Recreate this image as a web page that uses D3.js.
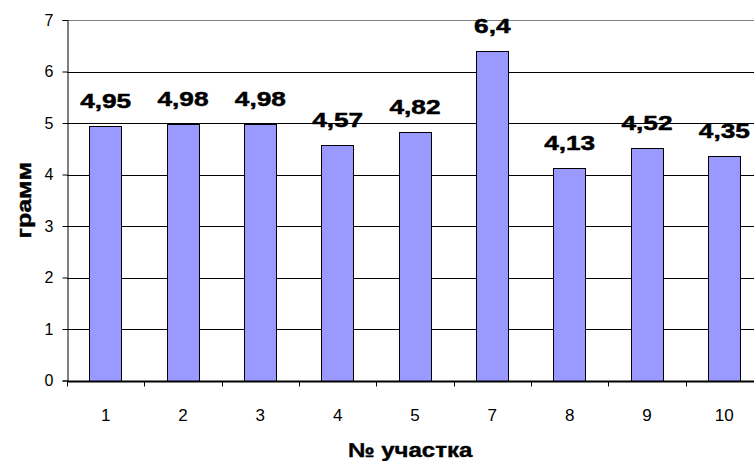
<!DOCTYPE html>
<html>
<head>
<meta charset="utf-8">
<script src="https://cdn.jsdelivr.net/npm/d3@7"></script>
<style>
  body { margin: 0; background: #fff; }
  svg { display: block; font-family: Arial, "Liberation Sans", sans-serif; }
</style>
</head>
<body>
<div id="chart"></div>
<script>
var categories = ['1', '2', '3', '4', '5', '7', '8', '9', '10'];
var values = [4.95, 4.98, 4.98, 4.57, 4.82, 6.4, 4.13, 4.52, 4.35];
var labels = ['4,95', '4,98', '4,98', '4,57', '4,82', '6,4', '4,13', '4,52', '4,35'];
var yTicks = [0, 1, 2, 3, 4, 5, 6, 7];

var width = 754, height = 461;
var margin = { top: 20, right: -9, bottom: 80, left: 67 };

var svg = d3.select('#chart').append('svg')
    .attr('width', width)
    .attr('height', height);

var x = d3.scaleBand()
    .domain(categories)
    .range([margin.left, width - margin.right])
    .paddingInner(0.58)
    .paddingOuter(0.29);

var xTick = d3.scaleLinear()
    .domain([0, categories.length])
    .range([margin.left, width - margin.right]);

var y = d3.scaleLinear()
    .domain([0, 7])
    .range([height - margin.bottom - 0.5, margin.top]);

// bold text in the original is drawn a bit wider than plain Arial
function stretch(sel, sx) {
    sel.each(function() {
        var t = d3.select(this);
        var cx = +t.attr('data-x'), cy = +t.attr('data-y');
        var rot = t.attr('data-rot') ? ' rotate(' + t.attr('data-rot') + ')' : '';
        t.attr('transform', 'translate(' + cx + ',' + cy + ')' + rot + ' scale(' + sx + ',1)');
    });
}

// grid lines
svg.append('g').selectAll('line')
    .data(yTicks.slice(1))
    .enter().append('line')
    .attr('x1', margin.left)
    .attr('x2', width - margin.right)
    .attr('y1', function(d) { return Math.round(y(d)) + 0.5; })
    .attr('y2', function(d) { return Math.round(y(d)) + 0.5; })
    .style('stroke', function(d) { return d === 7 ? '#808080' : '#000'; })
    .style('stroke-width', '1px');

// bars
svg.append('g').selectAll('rect')
    .data(values)
    .enter().append('rect')
    .attr('x', function(d, i) { return Math.round(x(categories[i])) + 0.5; })
    .attr('y', function(d) { return Math.round(y(d)) + 0.5; })
    .attr('width', Math.round(x.bandwidth()))
    .attr('height', function(d) { return Math.round(y(0)) - Math.round(y(d)); })
    .style('fill', '#9999ff')
    .style('stroke', '#000')
    .style('stroke-width', '1px');

// value labels
svg.append('g').selectAll('text')
    .data(values)
    .enter().append('text')
    .attr('data-x', function(d, i) { return x(categories[i]) + x.bandwidth() / 2; })
    .attr('data-y', function(d) { return y(d) - 18; })
    .attr('text-anchor', 'middle')
    .style('font-size', '21px')
    .style('font-weight', 'bold')
    .style('fill', '#000')
    .style('stroke', '#000')
    .style('stroke-width', '0.5px')
    .text(function(d, i) { return labels[i]; })
    .call(stretch, 1.25);

// y axis
var yAxis = svg.append('g')
    .attr('transform', 'translate(' + (margin.left + 0.5) + ',0)')
    .call(d3.axisLeft(y).tickValues(yTicks).tickSize(5).tickPadding(9).tickFormat(d3.format('d')));
yAxis.select('.domain').attr('stroke', '#000');
yAxis.selectAll('.tick line').attr('stroke', '#000');
yAxis.selectAll('.tick text')
    .style('font-size', '16px')
    .style('font-family', 'Arial, "Liberation Sans", sans-serif')
    .attr('fill', '#000');

// x axis
var xAxisY = Math.round(y(0)) + 0.5;
svg.append('line')
    .attr('x1', margin.left)
    .attr('x2', width - margin.right)
    .attr('y1', xAxisY)
    .attr('y2', xAxisY)
    .style('stroke', '#000')
    .style('stroke-width', '2px');

svg.append('g').selectAll('line')
    .data(d3.range(categories.length + 1))
    .enter().append('line')
    .attr('x1', function(d) { return Math.round(xTick(d)) + 0.5; })
    .attr('x2', function(d) { return Math.round(xTick(d)) + 0.5; })
    .attr('y1', xAxisY)
    .attr('y2', xAxisY + 5)
    .style('stroke', '#000');

svg.append('g').selectAll('text')
    .data(categories)
    .enter().append('text')
    .attr('x', function(d) { return x(d) + x.bandwidth() / 2; })
    .attr('y', xAxisY + 39)
    .attr('text-anchor', 'middle')
    .style('font-size', '17px')
    .style('fill', '#000')
    .text(function(d) { return d; });

// axis titles
svg.append('text')
    .attr('data-x', 410)
    .attr('data-y', 457)
    .attr('text-anchor', 'middle')
    .style('font-size', '20px')
    .style('font-weight', 'bold')
    .style('stroke', '#000')
    .style('stroke-width', '0.4px')
    .text('№ участка')
    .call(stretch, 1.2);

svg.append('text')
    .attr('data-x', 31)
    .attr('data-y', (y(0) + y(7)) / 2)
    .attr('data-rot', -90)
    .attr('text-anchor', 'middle')
    .style('font-size', '20px')
    .style('font-weight', 'bold')
    .style('stroke', '#000')
    .style('stroke-width', '0.4px')
    .text('грамм')
    .call(stretch, 1.25);
</script>
</body>
</html>
